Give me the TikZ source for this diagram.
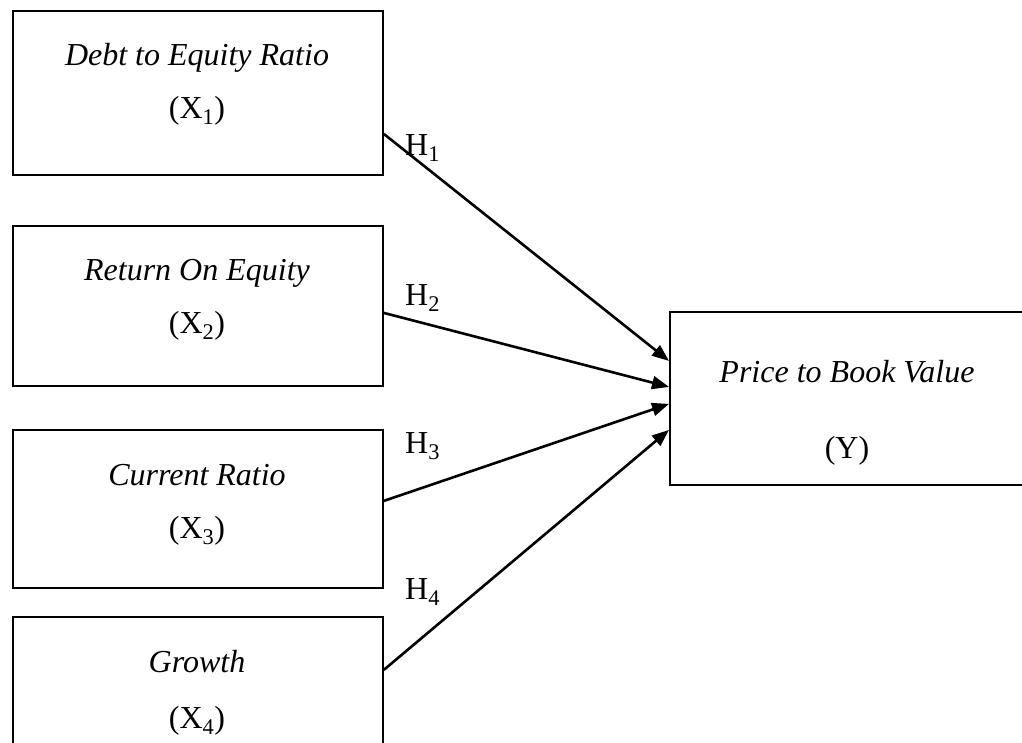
\documentclass[tikz,border=0pt]{standalone}
\usepackage{fontspec}
\setmainfont{Liberation Serif}
\usetikzlibrary{arrows.meta}
\begin{document}
\begin{tikzpicture}[x=1pt,y=-1pt,
  box/.style={draw, line width=1.8pt, inner sep=0pt, anchor=north west},
  lbl/.style={font=\fontsize{32}{38}\selectfont, inner sep=0pt, anchor=base},
  var/.style={lbl, font=\fontsize{32}{38}\selectfont\itshape},
  hyp/.style={font=\fontsize{32}{38}\selectfont, inner sep=0pt, anchor=base west},
  conn/.style={line width=2.6pt, -{Triangle[length=17pt,width=13pt]}}]
\clip (0,0) rectangle (1022,742);
\fill[white] (0,0) rectangle (1022,742);
% boxes
\node[box, minimum width=370pt, minimum height=164pt] (b1) at (12,10) {};
\node[box, minimum width=370pt, minimum height=160pt] (b2) at (12,225) {};
\node[box, minimum width=370pt, minimum height=158pt] (b3) at (12,429) {};
\node[box, minimum width=370pt, minimum height=164pt] (b4) at (12,616) {};
\node[box, minimum width=356pt, minimum height=173pt] (y) at (669,311) {};
% texts
\node[var] (t1a) at (197,65) {Debt to Equity Ratio};
\node[lbl] (t1b) at (197,118) {(X\textsubscript{1})};
\node[var] (t2a) at (197,280) {Return On Equity};
\node[lbl] (t2b) at (197,333) {(X\textsubscript{2})};
\node[var] (t3a) at (197,485) {Current Ratio};
\node[lbl] (t3b) at (197,538) {(X\textsubscript{3})};
\node[var] (t4a) at (197,672) {Growth};
\node[lbl] (t4b) at (197,728) {(X\textsubscript{4})};
\node[var] (tya) at (847,382) {Price to Book Value};
\node[lbl] (tyb) at (847,458) {(Y)};
% hypothesis labels
\node[hyp] (h1) at (405,155) {H\textsubscript{1}};
\node[hyp] (h2) at (405,305) {H\textsubscript{2}};
\node[hyp] (h3) at (405,453) {H\textsubscript{3}};
\node[hyp] (h4) at (405,599) {H\textsubscript{4}};
% connectors
\draw[conn] ([yshift=-41pt]b1.east) -- ([yshift=37.5pt]y.west);
\draw[conn] ([yshift=-7pt]b2.east) -- ([yshift=11.5pt]y.west);
\draw[conn] ([yshift=8pt]b3.east) -- ([yshift=-5.5pt]y.west);
\draw[conn] ([yshift=29pt]b4.east) -- ([yshift=-31.5pt]y.west);
\end{tikzpicture}
\end{document}
